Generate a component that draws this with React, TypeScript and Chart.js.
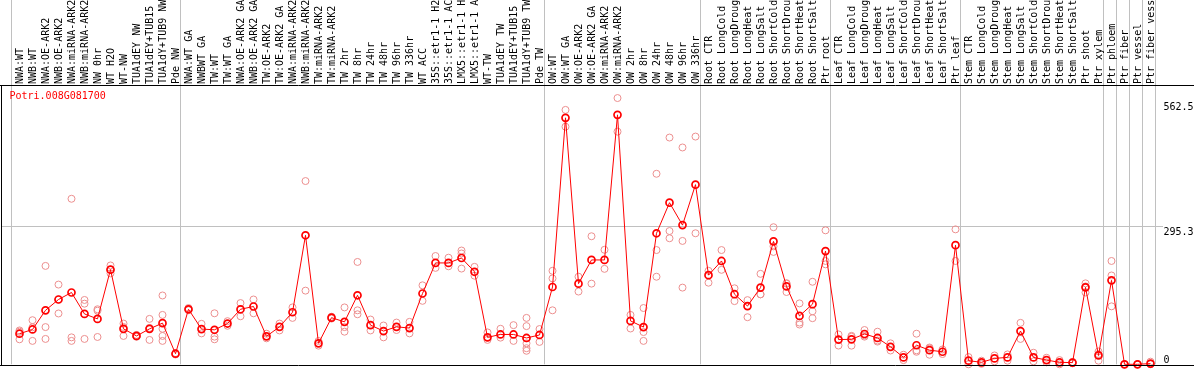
import React, { useEffect, useRef } from 'react';
import { Chart, registerables } from 'chart.js';

Chart.register(...registerables);

const geneId = 'Potri.008G081700';

const categories = [
  'NWA:WT', 'NWB:WT', 'NWA:OE-ARK2', 'NWB:OE-ARK2', 'NWA:miRNA-ARK2', 'NWB:miRNA-ARK2', 'NW 0hr', 'WT H2O', 'WT-NW',
  'TUA1dEY NW', 'TUA1dEY+TUB15 NW', 'TUA1dY+TUB9 NW', 'Pde NW',
  'NWA:WT GA', 'NWBWT GA', 'TW:WT', 'TW:WT GA', 'NWA:OE-ARK2 GA', 'NWB:OE-ARK2 GA', 'TW:OE-ARK2', 'TW:OE-ARK2 GA',
  'NWA:miRNA-ARK2 GA', 'NWB:miRNA-ARK2 GA', 'TW:miRNA-ARK2', 'TW:miRNA-ARK2 GA', 'TW 2hr', 'TW 8hr', 'TW 24hr',
  'TW 48hr', 'TW 96hr', 'TW 336hr', 'WT ACC', '35S::etr1-1 H2O', '35S::etr1-1 ACC', 'LMX5::etr1-1 H2O',
  'LMX5::etr1-1 ACC', 'WT-TW', 'TUA1dEY TW', 'TUA1dEY+TUB15 TW', 'TUA1dY+TUB9 TW', 'Pde TW',
  'OW:WT', 'OW:WT GA', 'OW:OE-ARK2', 'OW:OE-ARK2 GA', 'OW:miRNA-ARK2', 'OW:miRNA-ARK2 GA', 'OW 2hr', 'OW 8hr',
  'OW 24hr', 'OW 48hr', 'OW 96hr', 'OW 336hr',
  'Root CTR', 'Root LongCold', 'Root LongDrought', 'Root LongHeat', 'Root LongSalt', 'Root ShortCold',
  'Root ShortDrought', 'Root ShortHeat', 'Root ShortSalt', 'Ptr root',
  'Leaf CTR', 'Leaf LongCold', 'Leaf LongDrought', 'Leaf LongHeat', 'Leaf LongSalt', 'Leaf ShortCold',
  'Leaf ShortDrought', 'Leaf ShortHeat', 'Leaf ShortSalt', 'Ptr leaf',
  'Stem CTR', 'Stem LongCold', 'Stem LongDrought', 'Stem LongHeat', 'Stem LongSalt', 'Stem ShortCold',
  'Stem ShortDrought', 'Stem ShortHeat', 'Stem ShortSalt', 'Ptr shoot', 'Ptr xylem',
  'Ptr phloem', 'Ptr fiber', 'Ptr vessel', 'Ptr fiber vessel',
];

// index of the first sample of every group (last entry = end of the list)
const groupStarts = [0, 13, 41, 53, 63, 73, 84, 85, 86, 87, 88];

const meanValues = [
  65.6, 74.7, 115.8, 139, 154, 108, 97.4, 203, 76, 60.8, 76, 88.3, 22.7,
  118, 75.6, 74, 87.4, 118, 124, 60, 80.4, 111.6, 276.7, 45, 100, 91, 148, 84, 71.3, 80.4, 77.7, 151.8,
  217.4, 217.4, 228, 198.4, 57.8, 64, 64, 56.5, 62.9,
  165.8, 528.6, 173, 223.8, 223.8, 535, 93.1, 79.8, 281, 346.6, 298.5, 385.3,
  191.2, 221.6, 150.3, 124.9, 164.5, 263.6, 167, 103.7, 129, 242.8,
  53, 53.6, 65, 56.5, 37.5, 14.8, 40.9, 30.3, 26.9, 255.5,
  7.8, 4.2, 12.7, 14.8, 71.3, 14.8, 9.1, 4.2, 3.6, 165, 19,
  180, 0, 0, 1.5,
];

const replicateValues: number[][] = [
  [72.6, 70, 53.6], [94.6, 79.3, 50.2], [211, 79.8, 54.4], [171, 139, 109], [355, 57.8, 50.2],
  [138, 130, 54.4], [118, 115, 58.6], [212, 203, 195], [87.4, 80, 60.8], [63, 60, 59],
  [97.4, 78, 52.3], [147.6, 105.9, 76.2, 60.8, 50.2], [24, 21],
  [120.7, 116], [86.8, 66.3], [109.4, 59.3, 53.6], [92.5, 82.6], [131.3, 103], [139, 109.4],
  [65.6, 55.7], [87.4, 72.6], [122, 99.5], [393, 158], [50, 40], [102, 98], [122, 79.8, 69.9],
  [219.5, 115.8, 107.3], [96, 72.6], [83.2, 57.8], [89.5, 73.5], [91, 66.3], [169.4, 136.1],
  [232.2, 206.8], [228.6, 210.2], [244, 237.7, 205.3], [209, 190], [68.4, 52.3], [76.2, 57.2],
  [84, 50.2], [99.5, 81.9, 56, 45, 34.5, 29], [75.6, 48],
  [200.5, 184.2, 115.8], [545.6, 509.6], [187.8, 156], [274.6, 173], [245.6, 204.7], [571, 499],
  [105.9, 76.8], [120.7, 69.2, 50.2], [408.6, 245, 187.8], [486.3, 285.8, 270.3],
  [465, 264.6, 164.5], [488.4, 281],
  [200.5, 175], [245, 202.6], [163, 135.5], [137.6, 101], [194, 150, 150], [294, 253, 241],
  [174, 173, 155], [130.6, 89.5, 85.3], [177, 113.7, 98.9], [287.3, 221.6, 214.4],
  [64.1, 40.2], [61, 59, 40], [73.5, 62, 59.3], [69.9, 51, 48.7], [45, 29.6], [20.5, 9],
  [65.6, 30, 26.9], [36, 34, 20.5], [31.8, 22], [289.4, 221.6],
  [15.5, 0], [7.8, 1], [19, 6.4], [21.2, 7.8], [88.9, 54.4], [24.8, 6.4], [14, 4.2], [9, 0],
  [5, 2], [173.6, 167, 154], [27.5, 22, 7.8],
  [221.6, 190.5, 124.3], [0, 0], [0, 0], [5.7, 0],
];

const yTickValues = [0, 295.3, 562.5];
const yGridValues = [295.3];
const yMax = 599;

const MONO = "'DejaVu Sans Mono', 'Liberation Mono', monospace";
const GRID = '#c0c0c0';
const RED = '#ff0000';
const PINK = '#ec8f8f';
const SEP_SHIFT = 0.615;

export default function App() {
  const ref = useRef<HTMLCanvasElement>(null);

  useEffect(() => {
    const canvas = ref.current;
    if (!canvas) return;

    const replicatePoints = replicateValues.flatMap((vals, i) => vals.map((v) => ({ x: i, y: v })));
    const n = categories.length;

    const overlay = {
      id: 'overlay',
      afterDatasetsDraw(chart: any) {
        const { ctx, chartArea, width } = chart;
        const yScale = chart.scales.y;
        ctx.save();
        // left part of the horizontal grid line(s)
        ctx.strokeStyle = GRID;
        ctx.lineWidth = 1;
        yGridValues.forEach((v) => {
          const py = Math.round(yScale.getPixelForValue(v) - 0.5) + 0.5;
          ctx.beginPath();
          ctx.moveTo(1, py);
          ctx.lineTo(chartArea.left, py);
          ctx.stroke();
        });
        // black frame
        ctx.strokeStyle = '#000';
        const top = Math.floor(chartArea.top) + 0.5;
        const bottom = Math.floor(chartArea.bottom) + 1.5;
        ctx.beginPath();
        ctx.moveTo(0, top);
        ctx.lineTo(width, top);
        ctx.moveTo(0, bottom);
        ctx.lineTo(width, bottom);
        ctx.moveTo(1.5, top);
        ctx.lineTo(1.5, bottom);
        ctx.stroke();
        ctx.restore();
      },
      afterDraw(chart: any) {
        const { ctx, chartArea } = chart;
        const yScale = chart.scales.y;
        ctx.save();
        ctx.font = `10px ${MONO}`;
        ctx.textBaseline = 'alphabetic';
        ctx.textAlign = 'left';
        ctx.fillStyle = '#000';
        yTickValues.forEach((v) => {
          const py = yScale.getPixelForValue(v);
          const base = Math.min(py + 8, chartArea.bottom - 1.7);
          ctx.fillText(String(v), chartArea.right + 6.5, base);
        });
        ctx.fillStyle = RED;
        ctx.fillText(geneId, chartArea.left - 3.5, chartArea.top + 14.3);
        ctx.restore();
      },
    };

    const chart = new Chart(canvas, {
      type: 'line',
      data: {
        labels: categories,
        datasets: [
          {
            label: 'mean',
            data: meanValues,
            xAxisID: 'x',
            yAxisID: 'y',
            borderColor: RED,
            borderWidth: 1,
            pointStyle: 'circle',
            pointRadius: 3.5,
            pointBorderWidth: 1.7,
            pointBorderColor: RED,
            pointBackgroundColor: 'rgba(255,255,255,0)',
            fill: false,
            tension: 0,
            clip: false,
            order: 0,
          } as any,
          {
            label: 'replicates',
            data: replicatePoints as any,
            xAxisID: 'xs',
            yAxisID: 'y',
            showLine: false,
            pointStyle: 'circle',
            pointRadius: 3.5,
            pointBorderWidth: 1,
            pointBorderColor: PINK,
            pointBackgroundColor: 'rgba(255,255,255,0)',
            clip: false,
            order: 1,
          } as any,
        ],
      },
      options: {
        animation: false,
        responsive: false,
        devicePixelRatio: 1,
        events: [],
        layout: { padding: { left: 13, right: 0, top: 0, bottom: 2 } },
        plugins: {
          legend: { display: false },
          title: { display: false },
          tooltip: { enabled: false },
        },
        scales: {
          x: {
            type: 'category',
            position: 'top',
            offset: true,
            weight: 1,
            grid: { display: false, drawTicks: false },
            border: { display: false },
            ticks: {
              autoSkip: false,
              minRotation: 90,
              maxRotation: 90,
              padding: 1,
              labelOffset: 12.5,
              color: '#000',
              font: { family: MONO, size: 10 },
            },
            afterFit: (s: any) => {
              s.height = 85;
            },
          },
          xs: {
            type: 'linear',
            position: 'top',
            min: -0.5,
            max: n - 0.5,
            weight: 0,
            afterBuildTicks: (s: any) => {
              s.ticks = groupStarts.map((k) => ({ value: k - SEP_SHIFT }));
            },
            grid: { color: GRID, lineWidth: 1, drawTicks: true, tickLength: 85 },
            border: { display: false },
            ticks: { display: false },
            afterFit: (s: any) => {
              s.height = 0;
            },
          },
          y: {
            type: 'linear',
            position: 'right',
            min: 0,
            max: yMax,
            afterBuildTicks: (s: any) => {
              s.ticks = yTickValues.map((v) => ({ value: v }));
            },
            grid: {
              color: (c: any) => (c.tick && yGridValues.includes(c.tick.value) ? GRID : 'rgba(0,0,0,0)'),
              drawTicks: true,
              tickLength: 6,
            },
            border: { display: false },
            ticks: { display: false },
            afterFit: (s: any) => {
              s.width = 37;
            },
          },
        },
      } as any,
      plugins: [overlay],
    });

    return () => chart.destroy();
  }, []);

  return (
    <div style={{ position: 'fixed', left: 0, top: 0, width: 1194, height: 370, background: '#fff' }}>
      <canvas ref={ref} width={1194} height={370} style={{ display: 'block' }} />
    </div>
  );
}
